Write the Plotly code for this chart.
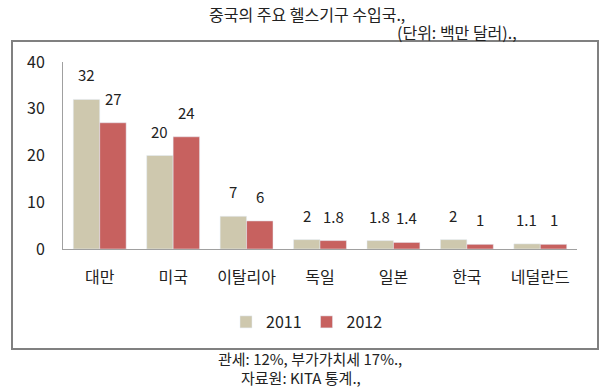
import plotly.graph_objects as go

categories = ["대만", "미국", "이탈리아", "독일", "일본", "한국", "네덜란드"]
values_2011 = [32, 20, 7, 2, 1.8, 2, 1.1]
values_2012 = [27, 24, 6, 1.8, 1.4, 1, 1]
labels_2011 = ["32", "20", "7", "2", "1.8", "2", "1.1"]
labels_2012 = ["27", "24", "6", "1.8", "1.4", "1", "1"]
y_ticks = [0, 10, 20, 30, 40]

FONT = "Noto Sans CJK KR"
C2011 = "#CEC8AE"
C2012 = "#C7615F"

W, H = 609, 389
def px(x):
    return x / W
def py(y):
    return 1 - y / H

fig = go.Figure()
fig.add_trace(go.Bar(name="2011", x=categories, y=values_2011, marker_color=C2011))
fig.add_trace(go.Bar(name="2012", x=categories, y=values_2012, marker_color=C2012))

annotations = []
for cat, v, t in zip(categories, values_2011, labels_2011):
    annotations.append(dict(x=cat, y=v, xref="x", yref="y", text=t, showarrow=False,
                            xshift=-13.5, yshift=12, yanchor="bottom",
                            font=dict(family=FONT, size=15, color="#222")))
for cat, v, t in zip(categories, values_2012, labels_2012):
    annotations.append(dict(x=cat, y=v, xref="x", yref="y", text=t, showarrow=False,
                            xshift=13.5, yshift=12, yanchor="bottom",
                            font=dict(family=FONT, size=15, color="#222")))

annotations += [
    dict(x=px(307), y=py(14), xref="paper", yref="paper", text="중국의 주요 헬스기구 수입국.,",
         showarrow=False, xanchor="center", yanchor="middle",
         font=dict(family=FONT, size=16, color="#222")),
    dict(x=px(457), y=py(32), xref="paper", yref="paper", text="(단위: 백만 달러).,",
         showarrow=False, xanchor="center", yanchor="middle",
         font=dict(family=FONT, size=16, color="#222")),
    dict(x=px(310), y=py(358), xref="paper", yref="paper", text="관세: 12%, 부가가치세 17%.,",
         showarrow=False, xanchor="center", yanchor="middle",
         font=dict(family=FONT, size=15, color="#222")),
    dict(x=px(301), y=py(377), xref="paper", yref="paper", text="자료원: KITA 통계.,",
         showarrow=False, xanchor="center", yanchor="middle",
         font=dict(family=FONT, size=15, color="#222")),
]

shapes = [
    dict(type="rect", xref="paper", yref="paper",
         x0=px(12), x1=px(598), y0=py(349), y1=py(41),
         line=dict(color="#808080", width=2), fillcolor="rgba(0,0,0,0)", layer="below"),
]

fig.update_layout(
    width=W, height=H,
    margin=dict(l=0, r=0, t=0, b=0, autoexpand=False),
    paper_bgcolor="white", plot_bgcolor="white",
    barmode="group", bargap=0.28, bargroupgap=0,
    font=dict(family=FONT, size=16, color="#222"),
    showlegend=True,
    legend=dict(orientation="h", x=px(307), y=py(322), xanchor="center", yanchor="middle",
                font=dict(family=FONT, size=16, color="#222"), itemwidth=30,
                bgcolor="rgba(0,0,0,0)"),
    xaxis=dict(domain=[px(63), px(577)], showline=True, linecolor="#A0A0A0", linewidth=1,
               automargin=False,
               ticks="outside", ticklen=14, tickcolor="rgba(0,0,0,0)",
               tickfont=dict(family=FONT, size=16, color="#222"), showgrid=False, zeroline=False),
    yaxis=dict(domain=[py(249), py(62)], range=[0, 40], tickvals=y_ticks,
               showline=True, linecolor="#A0A0A0", linewidth=1, automargin=False,
               ticks="outside", ticklen=14, tickcolor="rgba(0,0,0,0)",
               tickfont=dict(family=FONT, size=16, color="#222"), showgrid=False, zeroline=False),
    annotations=annotations,
    shapes=shapes,
)

fig.write_html("out.html", config={"displayModeBar": False},
               post_script="document.body.style.margin='0';document.body.style.overflow='hidden';")
